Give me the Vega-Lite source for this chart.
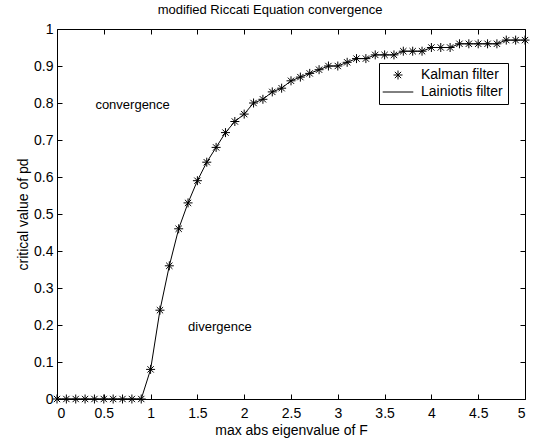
{
  "$schema": "https://vega.github.io/schema/vega-lite/v6.json",
  "width": 468,
  "height": 370,
  "autosize": {"type": "none"},
  "padding": {"left": 57, "top": 29, "right": 8, "bottom": 42},
  "background": "white",
  "title": {"text": "modified Riccati Equation convergence", "fontSize": 13, "fontWeight": "normal", "font": "Liberation Sans", "offset": 5, "dx": -21, "color": "black"},
  "config": {
    "view": {"stroke": "black", "strokeWidth": 1},
    "font": "Liberation Sans",
    "axis": {"grid": false, "domain": false, "tickColor": "black", "labelColor": "black", "titleColor": "black", "labelFontSize": 14, "titleFontSize": 14, "titleFontWeight": "normal", "labelFont": "Liberation Sans", "titleFont": "Liberation Sans", "tickSize": -5}
  },
  "datasets": {
    "main": [
      {"x": 0.0, "y": 0}, {"x": 0.1, "y": 0}, {"x": 0.2, "y": 0}, {"x": 0.3, "y": 0}, {"x": 0.4, "y": 0},
      {"x": 0.5, "y": 0}, {"x": 0.6, "y": 0}, {"x": 0.7, "y": 0}, {"x": 0.8, "y": 0}, {"x": 0.9, "y": 0},
      {"x": 1.0, "y": 0.08}, {"x": 1.1, "y": 0.24}, {"x": 1.2, "y": 0.36}, {"x": 1.3, "y": 0.46}, {"x": 1.4, "y": 0.53},
      {"x": 1.5, "y": 0.59}, {"x": 1.6, "y": 0.64}, {"x": 1.7, "y": 0.68}, {"x": 1.8, "y": 0.72}, {"x": 1.9, "y": 0.75},
      {"x": 2.0, "y": 0.77}, {"x": 2.1, "y": 0.80}, {"x": 2.2, "y": 0.81}, {"x": 2.3, "y": 0.83}, {"x": 2.4, "y": 0.84},
      {"x": 2.5, "y": 0.86}, {"x": 2.6, "y": 0.87}, {"x": 2.7, "y": 0.88}, {"x": 2.8, "y": 0.89}, {"x": 2.9, "y": 0.90},
      {"x": 3.0, "y": 0.90}, {"x": 3.1, "y": 0.91}, {"x": 3.2, "y": 0.92}, {"x": 3.3, "y": 0.92}, {"x": 3.4, "y": 0.93},
      {"x": 3.5, "y": 0.93}, {"x": 3.6, "y": 0.93}, {"x": 3.7, "y": 0.94}, {"x": 3.8, "y": 0.94}, {"x": 3.9, "y": 0.94},
      {"x": 4.0, "y": 0.95}, {"x": 4.1, "y": 0.95}, {"x": 4.2, "y": 0.95}, {"x": 4.3, "y": 0.96}, {"x": 4.4, "y": 0.96},
      {"x": 4.5, "y": 0.96}, {"x": 4.6, "y": 0.96}, {"x": 4.7, "y": 0.96}, {"x": 4.8, "y": 0.97}, {"x": 4.9, "y": 0.97},
      {"x": 5.0, "y": 0.97}
    ],
    "notes": [
      {"label": "convergence", "x": 0.41, "y": 0.795},
      {"label": "divergence", "x": 1.40, "y": 0.195}
    ]
  },
  "layer": [
    {
      "data": {"name": "main"},
      "mark": {"type": "line", "color": "black", "strokeWidth": 1},
      "encoding": {
        "x": {"field": "x", "type": "quantitative", "scale": {"domain": [0, 5], "nice": false}, "axis": {"orient": "bottom", "values": [0, 0.5, 1, 1.5, 2, 2.5, 3, 3.5, 4, 4.5, 5], "format": "~g", "title": "max abs eigenvalue of F", "labelPadding": 12, "titlePadding": 3}},
        "y": {"field": "y", "type": "quantitative", "scale": {"domain": [0, 1], "nice": false}, "axis": {"orient": "left", "values": [0, 0.1, 0.2, 0.3, 0.4, 0.5, 0.6, 0.7, 0.8, 0.9, 1], "format": "~g", "title": "critical value of pd", "labelPadding": 9, "titlePadding": 3}}
      }
    },
    {
      "data": {"name": "main"},
      "mark": {"type": "point", "filled": false, "stroke": "black", "strokeWidth": 1, "size": 81, "opacity": 1},
      "encoding": {
        "x": {"field": "x", "type": "quantitative", "axis": {"orient": "top", "values": [0, 0.5, 1, 1.5, 2, 2.5, 3, 3.5, 4, 4.5, 5], "labels": false, "title": null}},
        "y": {"field": "y", "type": "quantitative", "axis": {"orient": "right", "values": [0, 0.1, 0.2, 0.3, 0.4, 0.5, 0.6, 0.7, 0.8, 0.9, 1], "labels": false, "title": null}},
        "shape": {
          "datum": "Kalman filter",
          "scale": {"domain": ["Kalman filter", "Lainiotis filter"], "range": ["M-1,0L1,0M0,-1L0,1M-0.7,-0.7L0.7,0.7M-0.7,0.7L0.7,-0.7", "M-3.4,0L3.4,0"]},
          "legend": {
            "title": null,
            "orient": "none",
            "legendX": 322,
            "legendY": 34,
            "strokeColor": "black",
            "fillColor": "white",
            "cornerRadius": 0,
            "padding": 5,
            "labelFontSize": 14,
            "labelFont": "Liberation Sans",
            "labelColor": "black",
            "symbolSize": 81,
            "symbolStrokeColor": "black",
            "symbolStrokeWidth": 1,
            "symbolFillColor": "transparent",
            "symbolOpacity": 1,
            "symbolOffset": 7,
            "labelOffset": 16,
            "rowPadding": 3
          }
        }
      }
    },
    {
      "data": {"name": "notes"},
      "mark": {"type": "text", "align": "left", "baseline": "middle", "fontSize": 13, "font": "Liberation Sans", "color": "black"},
      "encoding": {
        "x": {"field": "x", "type": "quantitative", "axis": null},
        "y": {"field": "y", "type": "quantitative", "axis": null},
        "text": {"field": "label"}
      }
    }
  ],
  "resolve": {"axis": {"x": "independent", "y": "independent"}}
}
